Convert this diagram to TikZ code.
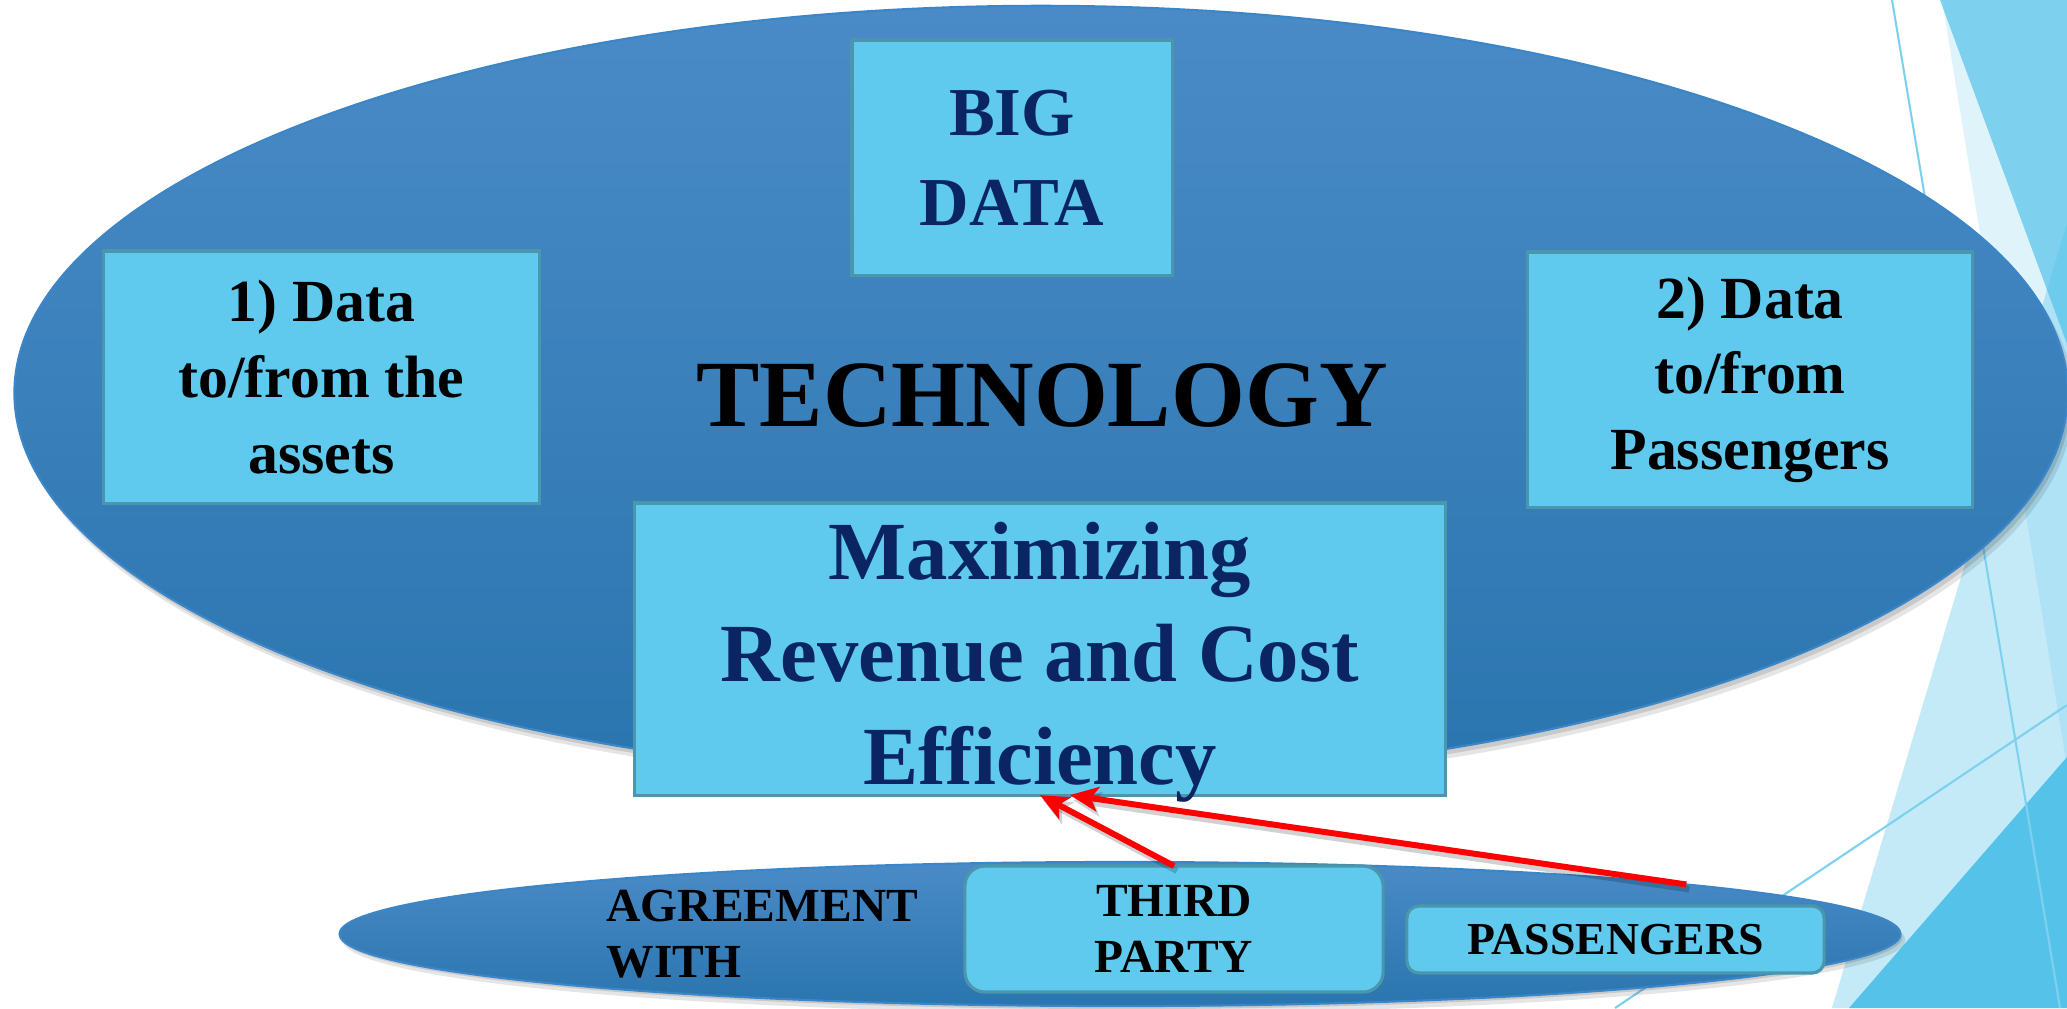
\documentclass[tikz,border=0pt]{standalone}
\usepackage{fontspec}
\setmainfont{Liberation Serif}
\usetikzlibrary{arrows.meta,calc,shapes.geometric}
\definecolor{ellTop}{HTML}{4A8BC7}
\definecolor{ellBot}{HTML}{2A75AF}
\definecolor{ellLine}{HTML}{3A86C8}
\definecolor{boxFill}{HTML}{5FCAEE}
\definecolor{boxLine}{HTML}{4A96AC}
\definecolor{navy}{HTML}{0B2563}
\definecolor{accA}{HTML}{4FC1E9}
\definecolor{facetLine}{HTML}{7DD1EF}
\definecolor{arrowRed}{HTML}{FF0000}
\begin{document}
\begin{tikzpicture}[x=0.01cm,y=-0.01cm,
  databox/.style={draw=boxLine, line width=0.9pt, fill=boxFill, inner sep=0pt, outer sep=0pt, align=center, font=\bfseries},
  bigell/.style={ellipse, draw=ellLine, line width=0.6pt, top color=ellTop, bottom color=ellBot, inner sep=0pt, outer sep=0pt},
  redarrow/.style={draw=arrowRed, line width=1.7pt, -{Stealth[length=8pt,width=7pt,inset=2pt]}},
  arrowshadow/.style={draw=black, opacity=0.18, line width=1.7pt, -{Stealth[length=8pt,width=7pt,inset=2pt]}}
]
\useasboundingbox (0,0) rectangle (2067,1008);
\fill[white] (0,0) rectangle (2067,1008);

% facet background shapes
\fill[accA, opacity=0.18] (1942,0) -- (2067,0) -- (2067,767) -- cycle;
\fill[accA, opacity=0.68] (1940,0) -- (2067,0) -- (2067,344) -- cycle;
\fill[accA, opacity=0.33] (2067,223) -- (1832,1008) -- (2067,1008) -- cycle;
\fill[accA, opacity=0.95] (2067,757) -- (1849,1008) -- (2067,1008) -- cycle;
\draw[facetLine, line width=0.6pt] (1892,0) -- (2060,1008);
\draw[facetLine, line width=0.6pt] (2067,705) -- (1615,1008);

% big ellipse shadow
\fill[black, opacity=0.10] (1046,401) ellipse [x radius=10.27cm, y radius=3.88cm];
\fill[black, opacity=0.12] (1044,398) ellipse [x radius=10.26cm, y radius=3.87cm];
\node[bigell, minimum width=20.52cm, minimum height=7.74cm] (tech) at (1041,393) {};

% bottom ellipse shadow
\fill[black, opacity=0.10] (1124,940) ellipse [x radius=7.81cm, y radius=0.73cm];
\fill[black, opacity=0.12] (1122,937) ellipse [x radius=7.80cm, y radius=0.72cm];
\node[bigell, minimum width=15.60cm, minimum height=1.44cm] (agreebar) at (1120,934) {};

% boxes
\node[databox, minimum width=3.20cm, minimum height=2.35cm, text=navy,
  font=\bfseries\fontsize{19.5}{25.6}\selectfont] (bigdata) at (1012,157.5) {BIG\\DATA};
\node[databox, minimum width=4.35cm, minimum height=2.52cm,
  font=\bfseries\fontsize{17}{21.5}\selectfont] (assets) at (321.5,377) {1) Data\\to/from the\\assets};
\node[databox, minimum width=4.44cm, minimum height=2.55cm,
  font=\bfseries\fontsize{17}{21.5}\selectfont] (pass) at (1750,379.5) {2) Data\\to/from\\Passengers};
\node[font=\bfseries\fontsize{27}{32}\selectfont, anchor=base, inner sep=0pt] (techlabel) at (1042,426) {TECHNOLOGY};
\node[databox, minimum width=8.10cm, minimum height=2.92cm] (max) at (1040,649) {};
\node[align=center, text=navy, inner sep=0pt,
  font=\bfseries\fontsize{23.5}{29.2}\selectfont] (maxtext) at (1040,662) {Maximizing\\Revenue and Cost\\Efficiency};

% bottom row
\node[font=\bfseries\fontsize{13.5}{16}\selectfont, align=left, anchor=west, inner sep=0pt] (agree) at (606,934) {AGREEMENT\\WITH};
\node[databox, rounded corners=0.2cm, minimum width=4.18cm, minimum height=1.26cm,
  font=\bfseries\fontsize{13.5}{16}\selectfont] (third) at (1174,929) {THIRD\\PARTY};
\node[databox, rounded corners=0.12cm, minimum width=4.17cm, minimum height=0.67cm,
  font=\bfseries\fontsize{13}{16}\selectfont] (passengers) at (1615.5,939.5) {PASSENGERS};

% arrows
\coordinate (tail2) at (agreebar.5.3);
\coordinate (head2) at ([xshift=0.30cm]max.south);
\draw[arrowshadow] ($(third.north)+(3,5)$) -- ($(max.south)+(3,5)$);
\draw[arrowshadow] ($(tail2)+(3,5)$) -- ($(head2)+(3,5)$);
\draw[redarrow] (third.north) -- (max.south);
\draw[redarrow] (tail2) -- (head2);
\end{tikzpicture}
\end{document}
